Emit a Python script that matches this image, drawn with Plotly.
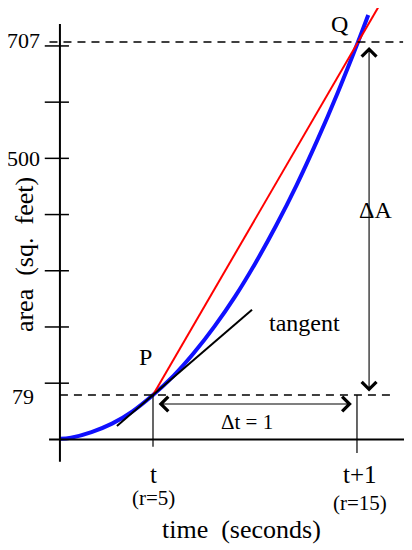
import plotly.graph_objects as go

# curve: radius r (ft) -> area (sq. feet)
curve_r = [0.46, 1, 2, 3, 4, 5, 6, 7, 8, 9, 10, 11, 12, 13, 14, 15, 15.5]
curve_area = [1, 3, 13, 28, 50, 79, 113, 154, 201, 254, 314, 380, 452, 531, 616, 707, 755]

# secant P -> Q (extended past Q)
secant_r = [5, 16.07]
secant_area = [79, 774]

# tangent at P
tangent_r = [3.24, 9.83]
tangent_area = [23.7, 230.7]

P = (5, 79)
Q = (15, 707)
tick_values = [100, 200, 300, 400, 500, 600, 700]
labeled_ticks = [707, 500, 79]

AXIS_R = 0.46
FONT = "Liberation Serif"
BLACK = "black"

fig = go.Figure()

fig.add_trace(go.Scatter(x=curve_r, y=curve_area, mode="lines", line_shape="spline",
                         line=dict(color="#1010ff", width=4), hoverinfo="skip"))
fig.add_trace(go.Scatter(x=secant_r, y=secant_area, mode="lines",
                         line=dict(color="#ff0000", width=2), hoverinfo="skip"))
fig.add_trace(go.Scatter(x=tangent_r, y=tangent_area, mode="lines",
                         line=dict(color=BLACK, width=2), hoverinfo="skip"))

# --- hand drawn axes ---
fig.add_shape(type="line", x0=AXIS_R, x1=AXIS_R, y0=-40, y1=739, line=dict(color=BLACK, width=2))
fig.add_shape(type="line", x0=-0.07, x1=17.7, y0=0, y1=0, line=dict(color=BLACK, width=2))
for v in tick_values:
    fig.add_shape(type="line", x0=-0.28, x1=0.9, y0=v, y1=v, line=dict(color=BLACK, width=1.5))

# dashed guides
fig.add_shape(type="line", x0=-0.05, x1=17.2, y0=Q[1], y1=Q[1],
              line=dict(color=BLACK, width=1.5, dash="8px,6px"))
fig.add_shape(type="line", x0=AXIS_R, x1=16.8, y0=P[1], y1=P[1],
              line=dict(color=BLACK, width=1.5, dash="8px,6px"))

# t and t+1 markers
fig.add_shape(type="line", x0=P[0], x1=P[0], y0=P[1], y1=-13, line=dict(color=BLACK, width=1.2))
fig.add_shape(type="line", x0=Q[0] - 0.05, x1=Q[0] - 0.05, y0=P[1], y1=-24,
              line=dict(color=BLACK, width=1.2))

# double arrows
fig.add_annotation(x=14.7, y=63, ax=5.2, ay=63, axref="x", ayref="y",
                   showarrow=True, arrowside="end+start", arrowhead=4, startarrowhead=4,
                   arrowsize=2.6, startarrowsize=2.6, arrowwidth=1.1, arrowcolor=BLACK, text="")
fig.add_annotation(x=15.54, y=P[1] + 6, ax=15.54, ay=Q[1] - 6, axref="x", ayref="y",
                   showarrow=True, arrowside="end+start", arrowhead=4, startarrowhead=4,
                   arrowsize=2.6, startarrowsize=2.6, arrowwidth=1.1, arrowcolor=BLACK, text="")

# y labels (right edge positions)
label_x = {707: -0.42, 500: -0.4, 79: -0.7}
label_y = {707: 710, 500: 500, 79: 77}
for v in labeled_ticks:
    fig.add_annotation(x=label_x[v], y=label_y[v], text=str(v), showarrow=False, xanchor="right",
                       font=dict(family=FONT, size=22, color=BLACK))

texts = [
    (4.61, 147, "P", 24),
    (14.12, 739, "Q", 24),
    (15.85, 408, "ΔA", 24),
    (12.37, 207, "tangent", 24),
    (9.59, 31, "Δt = 1", 21),
    (5, -62, "t", 25),
    (5, -104, "(r=5)", 21),
    (15.1, -62, "t+1", 25),
    (15.1, -113, "(r=15)", 21),
    (9.34, -161, "time  (seconds)", 26),
]
for x, y, s, size in texts:
    fig.add_annotation(x=x, y=y, text=s, showarrow=False,
                       font=dict(family=FONT, size=size, color=BLACK))

fig.add_annotation(x=-1.29, y=328, text="area  (sq.  feet)", textangle=-90, showarrow=False,
                   font=dict(family=FONT, size=26, color=BLACK))

# the page has an 8px body margin, so the figure is 8px smaller and the ranges shifted
fig.update_xaxes(range=[-2.073, 17.634], visible=False)
fig.update_yaxes(range=[-196.8, 767.5], visible=False)
fig.update_layout(width=404, height=542, margin=dict(l=0, r=0, t=0, b=0),
                  showlegend=False, plot_bgcolor="white", paper_bgcolor="white")

fig.write_html("out.html")
